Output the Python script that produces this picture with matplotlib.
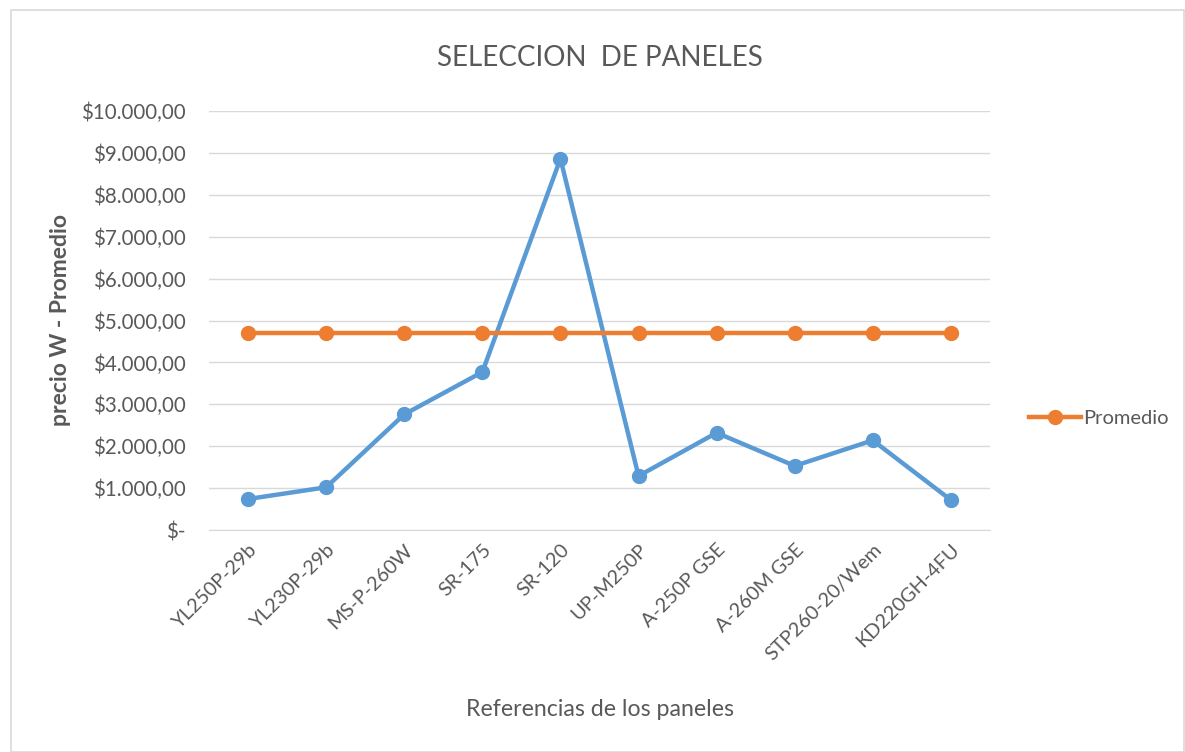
#!/usr/bin/env python3
"""Line chart: SELECCION DE PANELES (precio W vs promedio)."""

import matplotlib
matplotlib.use("Agg")
import matplotlib.pyplot as plt
from matplotlib.ticker import FuncFormatter
from matplotlib.lines import Line2D
from matplotlib.patches import Rectangle

paneles = ["YL250P-29b", "YL230P-29b", "MS-P-260W", "SR-175", "SR-120",
           "UP-M250P", "A-250P GSE", "A-260M GSE", "STP260-20/Wem", "KD220GH-4FU"]
precio_w = [740, 1020, 2760, 3770, 8860, 1290, 2320, 1530, 2140, 715]
promedio = [4700] * len(paneles)

BLUE = "#5B9BD5"
ORANGE = "#ED7D31"
GREY = "#595959"

plt.rcParams["font.family"] = ["Lato", "DejaVu Sans"]


def money(v, _pos):
    if v == 0:
        return "$-"
    s = f"{v:,.2f}"
    s = s.replace(",", "X").replace(".", ",").replace("X", ".")
    return "$" + s


fig = plt.figure(figsize=(11.85, 7.52), dpi=100)
fig.patches.append(Rectangle((0.009, 0.0), 0.99, 0.987, transform=fig.transFigure,
                             fill=False, edgecolor="#D9D9D9", linewidth=1.2))

ax = fig.add_axes([0.1764, 0.2952, 0.659, 0.5572])
x = range(len(paneles))
ax.plot(x, precio_w, color=BLUE, linewidth=3.2, marker="o", markersize=10,
        solid_capstyle="round")
ax.plot(x, promedio, color=ORANGE, linewidth=3.2, marker="o", markersize=10)

ax.set_xlim(-0.5, len(paneles) - 0.5)
ax.set_ylim(0, 10000)
ax.set_yticks(range(0, 10001, 1000))
ax.yaxis.set_major_formatter(FuncFormatter(money))
ax.grid(axis="y", color="#D9D9D9", linewidth=1)
ax.set_axisbelow(True)
for side in ax.spines.values():
    side.set_visible(False)
ax.spines["bottom"].set_visible(True)
ax.spines["bottom"].set_color("#D9D9D9")
ax.tick_params(axis="both", length=0, colors=GREY)
ax.tick_params(axis="y", pad=17, labelsize=14.8)

ax.set_xticks(list(x))
ax.set_xticklabels(paneles, rotation=45, ha="right", rotation_mode="anchor")
ax.tick_params(axis="x", pad=8, labelsize=14.3)

fig.text(0.506, 0.923, "SELECCION  DE PANELES", ha="center", va="center",
         fontsize=20, color=GREY)
fig.text(0.051, 0.574, "precio W - Promedio", rotation=90, ha="center",
         va="center", fontsize=16.5, color=GREY, fontweight="bold")
fig.text(0.506, 0.056, "Referencias de los paneles", ha="center", va="center",
         fontsize=16.7, color=GREY)

handle = Line2D([], [], color=ORANGE, linewidth=3.2, marker="o", markersize=10)
fig.legend([handle], ["Promedio"], loc="center left",
           bbox_to_anchor=(0.853, 0.444), frameon=False, fontsize=14.5,
           labelcolor=GREY, handlelength=2.6, handletextpad=0.1)

fig.savefig("out.png", dpi=100)
